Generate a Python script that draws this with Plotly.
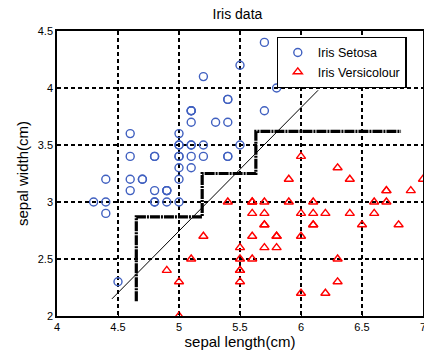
import plotly.graph_objects as go

setosa_len = [5.1,4.9,4.7,4.6,5.0,5.4,4.6,5.0,4.4,4.9,5.4,4.8,4.8,4.3,5.8,5.7,5.4,5.1,5.7,5.1,
              5.4,5.1,4.6,5.1,4.8,5.0,5.0,5.2,5.2,4.7,4.8,5.4,5.2,5.5,4.9,5.0,5.5,4.9,4.4,5.1,
              5.0,4.5,4.4,5.0,5.1,4.8,5.1,4.6,5.3,5.0]
setosa_wid = [3.5,3.0,3.2,3.1,3.6,3.9,3.4,3.4,2.9,3.1,3.7,3.4,3.0,3.0,4.0,4.4,3.9,3.5,3.8,3.8,
              3.4,3.7,3.6,3.3,3.4,3.0,3.4,3.5,3.4,3.2,3.1,3.4,4.1,4.2,3.1,3.2,3.5,3.1,3.0,3.4,
              3.5,2.3,3.2,3.5,3.8,3.0,3.8,3.2,3.7,3.3]
versi_len = [7.0,6.4,6.9,5.5,6.5,5.7,6.3,4.9,6.6,5.2,5.0,5.9,6.0,6.1,5.6,6.7,5.6,5.8,6.2,5.6,
             5.9,6.1,6.3,6.1,6.4,6.6,6.8,6.7,6.0,5.7,5.5,5.5,5.8,6.0,5.4,6.0,6.7,6.3,5.6,5.5,
             5.5,6.1,5.8,5.0,5.6,5.7,5.7,6.2,5.1,5.7]
versi_wid = [3.2,3.2,3.1,2.3,2.8,2.8,3.3,2.4,2.9,2.7,2.0,3.0,2.2,2.9,2.9,3.1,3.0,2.7,2.2,2.5,
             3.2,2.8,2.5,2.8,2.9,3.0,2.8,3.0,2.9,2.6,2.4,2.4,2.7,2.7,3.0,3.4,3.1,2.3,3.0,2.5,
             2.6,3.0,2.6,2.3,2.7,3.0,2.9,2.9,2.5,2.8]

line_x = [4.45, 6.14]
line_y = [2.15, 3.98]

step_x = [4.65, 4.65, 5.19, 5.19, 5.63, 5.63, 6.82]
step_y = [2.13, 2.87, 2.87, 3.25, 3.25, 3.62, 3.62]

x_ticks = [4, 4.5, 5, 5.5, 6, 6.5, 7]
x_labels = ["4", "4.5", "5", "5.5", "6", "6.5", "7"]
y_ticks = [2, 2.5, 3, 3.5, 4, 4.5]
y_labels = ["2", "2.5", "3", "3.5", "4", "4.5"]

FONT = "Liberation Sans, Arial"

fig = go.Figure()
fig.add_trace(go.Scatter(x=line_x, y=line_y, mode="lines",
                         line=dict(color="black", width=1), showlegend=False, hoverinfo="skip"))
fig.add_trace(go.Scatter(x=step_x, y=step_y, mode="lines",
                         line=dict(color="black", width=3.2, dash="10px,1px,2px,1px"),
                         showlegend=False, hoverinfo="skip"))
fig.add_trace(go.Scatter(x=setosa_len, y=setosa_wid, mode="markers", name="Iris Setosa",
                         marker=dict(symbol="circle-open", size=8, color="#4060c0",
                                     line=dict(width=1.4, color="#4060c0"))))
fig.add_trace(go.Scatter(x=versi_len, y=versi_wid, mode="markers", name="Iris Versicolour",
                         marker=dict(symbol="triangle-up-open", size=8, color="#ff0000",
                                     line=dict(width=1.4, color="#ff0000"))))

axis_common = dict(showline=True, linecolor="black", linewidth=1.5, mirror=True,
                   showgrid=True, gridcolor="black", gridwidth=1.5, griddash="4px,3px",
                   zeroline=False, ticks="inside", ticklen=4, tickcolor="black",
                   automargin=False, ticklabeloverflow="allow",
                   tickfont=dict(family=FONT, size=11, color="black"))

fig.update_xaxes(range=[4, 7], tickvals=x_ticks, ticktext=x_labels,
                 title=dict(text="sepal length(cm)", font=dict(family=FONT, size=15, color="black"), standoff=4),
                 **axis_common)
fig.update_yaxes(range=[2, 4.5], tickvals=y_ticks, ticktext=y_labels,
                 title=dict(text="sepal width(cm)", font=dict(family=FONT, size=15, color="black"), standoff=6),
                 **axis_common)

fig.update_layout(
    width=424, height=358,
    margin=dict(l=57, r=1, t=31, b=42, autoexpand=False),
    paper_bgcolor="white", plot_bgcolor="white",
    title=dict(text="Iris data", x=0.56, xanchor="center", y=0.962, yanchor="middle",
               font=dict(family=FONT, size=14, color="black")),
    legend=dict(x=0.6, y=0.98, xanchor="left", yanchor="top",
                bgcolor="white", bordercolor="black", borderwidth=1.2,
                font=dict(family=FONT, size=12.5, color="black"),
                itemwidth=30, tracegroupgap=0),
    showlegend=True,
)

fig.write_html("out.html", config={"displayModeBar": False},
               post_script="document.body.style.margin='0px';document.body.style.overflow='hidden';")
